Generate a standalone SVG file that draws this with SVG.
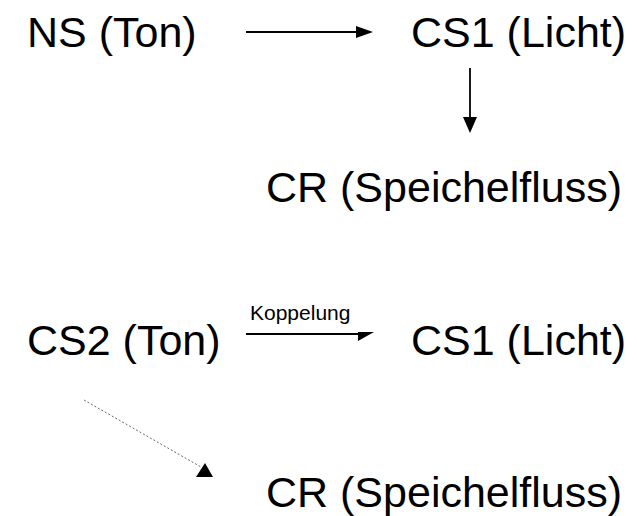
<svg xmlns="http://www.w3.org/2000/svg" width="637" height="516" viewBox="0 0 637 516">
<defs>
<style>
.t{font-family:"Liberation Sans",Arial,sans-serif;font-size:43px;fill:#000}
.s{font-family:"Liberation Sans",Arial,sans-serif;font-size:21px;fill:#000}
.c{stroke:#000;stroke-width:1.8;fill:none}
.d{stroke:#666;stroke-width:1;stroke-dasharray:2,2;fill:none}
</style>
</defs>
<rect width="637" height="516" fill="#fff"/>
<g id="n1"><text class="t" x="27" y="47">NS (Ton)</text></g>
<g id="n2"><text class="t" x="411" y="47">CS1 (Licht)</text></g>
<g id="n3"><text class="t" x="266" y="202">CR (Speichelfluss)</text></g>
<g id="n4"><text class="t" x="27" y="355">CS2 (Ton)</text></g>
<g id="n5"><text class="t" x="411" y="355">CS1 (Licht)</text></g>
<g id="n6"><text class="t" x="266" y="507">CR (Speichelfluss)</text></g>
<g id="connectors">
<line class="c" x1="246" y1="32" x2="360" y2="32"/>
<polygon points="356,26 373,32 356,38" fill="#000"/>
<line class="c" x1="470" y1="68" x2="470" y2="119"/>
<polygon points="463,117 477,117 470,133" fill="#000"/>
<line class="c" x1="246" y1="334" x2="362" y2="334"/>
<polygon points="358,332 374,332 358,341" fill="#000"/>
<text class="s" x="250" y="320">Koppelung</text>
<line class="d" x1="84" y1="400" x2="201" y2="467"/>
<polygon points="196,477 213,477 205,463" fill="#000"/>
</g>
</svg>
